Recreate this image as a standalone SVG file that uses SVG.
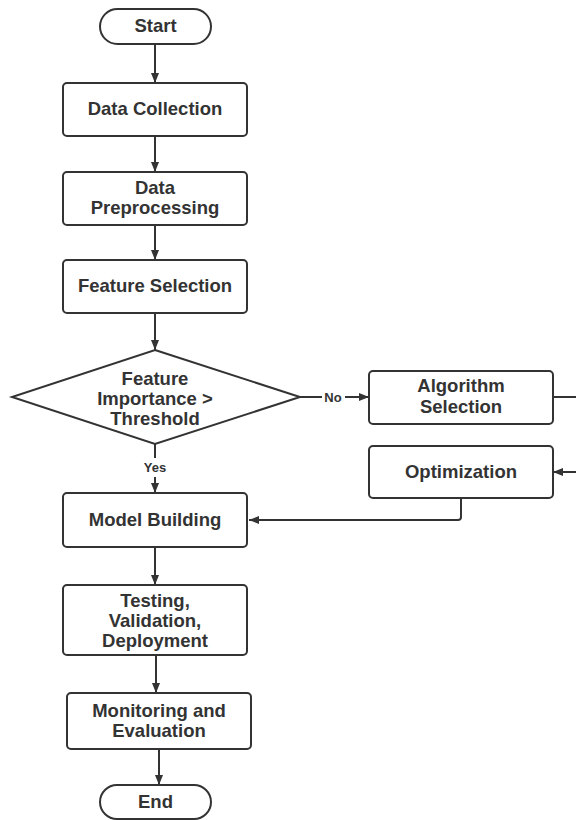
<svg xmlns="http://www.w3.org/2000/svg" width="576" height="820" viewBox="0 0 576 820">
<defs>
<style>
.box{fill:#fff;stroke:#333;stroke-width:2}
.t{font-family:"Liberation Sans",Arial,sans-serif;font-weight:bold;font-size:18.5px;fill:#333;text-anchor:middle}
.s{font-family:"Liberation Sans",Arial,sans-serif;font-weight:bold;font-size:13px;fill:#333;text-anchor:middle}
.c{fill:none;stroke:#333;stroke-width:2}
</style>
<marker id="ah" viewBox="0 0 10 10" refX="10" refY="5" markerWidth="10" markerHeight="10" markerUnits="userSpaceOnUse" orient="auto">
<path d="M0,1 L10,5 L0,9 Z" fill="#333"/>
</marker>
</defs>
<rect width="576" height="820" fill="#fff"/>
<g id="connectors">
<path class="c" d="M155,44 V83" marker-end="url(#ah)"/>
<path class="c" d="M155,136 V172" marker-end="url(#ah)"/>
<path class="c" d="M155,225 V260" marker-end="url(#ah)"/>
<path class="c" d="M155,313 V350" marker-end="url(#ah)"/>
<path class="c" d="M300,397 H322"/>
<path class="c" d="M345,397 H369" marker-end="url(#ah)"/>
<text class="s" x="333" y="402">No</text>
<path class="c" d="M155,444 V458"/>
<path class="c" d="M155,477 V493" marker-end="url(#ah)"/>
<text class="s" x="155" y="472">Yes</text>
<path class="c" d="M553,397 H590 V472 H553" marker-end="url(#ah)"/>
<path class="c" d="M461,498 V517 Q461,520 458,520 H249" marker-end="url(#ah)"/>
<path class="c" d="M155,547 V585" marker-end="url(#ah)"/>
<path class="c" d="M156,655 V693" marker-end="url(#ah)"/>
<path class="c" d="M159,749 V785" marker-end="url(#ah)"/>
</g>
<g id="start">
<rect class="box" x="100" y="9" width="111" height="35" rx="17.5"/>
<text class="t" x="155.5" y="32">Start</text>
</g>
<g id="data-collection">
<rect class="box" x="63" y="83" width="184" height="53" rx="4"/>
<text class="t" x="155" y="115">Data Collection</text>
</g>
<g id="data-preprocessing">
<rect class="box" x="63" y="172" width="184" height="53" rx="4"/>
<text class="t" x="155" y="194">Data</text>
<text class="t" x="155" y="214">Preprocessing</text>
</g>
<g id="feature-selection">
<rect class="box" x="63" y="260" width="184" height="53" rx="4"/>
<text class="t" x="155" y="292">Feature Selection</text>
</g>
<g id="decision">
<polygon class="box" points="155,350 300,397 155,444 12,397"/>
<text class="t" x="155" y="385">Feature</text>
<text class="t" x="155" y="405">Importance &gt;</text>
<text class="t" x="155" y="425">Threshold</text>
</g>
<g id="algorithm-selection">
<rect class="box" x="369" y="371" width="184" height="53" rx="4"/>
<text class="t" x="461" y="392">Algorithm</text>
<text class="t" x="461" y="413">Selection</text>
</g>
<g id="optimization">
<rect class="box" x="369" y="446" width="184" height="52" rx="4"/>
<text class="t" x="461" y="478">Optimization</text>
</g>
<g id="model-building">
<rect class="box" x="63" y="493" width="184" height="54" rx="4"/>
<text class="t" x="155" y="526">Model Building</text>
</g>
<g id="testing">
<rect class="box" x="63" y="585" width="184" height="70" rx="4"/>
<text class="t" x="155" y="607">Testing,</text>
<text class="t" x="155" y="627">Validation,</text>
<text class="t" x="155" y="647">Deployment</text>
</g>
<g id="monitoring">
<rect class="box" x="67" y="693" width="184" height="56" rx="4"/>
<text class="t" x="159" y="717">Monitoring and</text>
<text class="t" x="159" y="737">Evaluation</text>
</g>
<g id="end">
<rect class="box" x="100" y="785" width="111" height="34" rx="17"/>
<text class="t" x="155.5" y="808">End</text>
</g>
</svg>
